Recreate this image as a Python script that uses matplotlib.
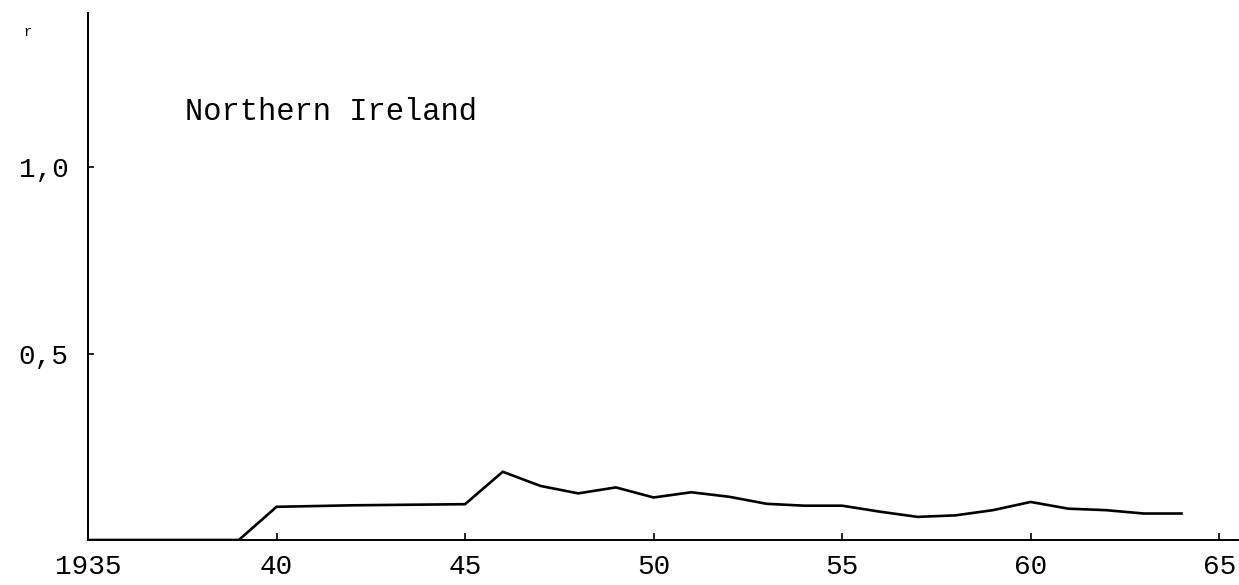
import matplotlib
matplotlib.use("Agg")
import matplotlib.pyplot as plt

# Annual values for Northern Ireland
years = [1935, 1936, 1937, 1938, 1939, 1940, 1941, 1942, 1943, 1944, 1945,
         1946, 1947, 1948, 1949, 1950, 1951, 1952, 1953, 1954, 1955,
         1956, 1957, 1958, 1959, 1960, 1961, 1962, 1963, 1964]
values = [0.0, 0.0, 0.0, 0.0, 0.0, 0.089, 0.091, 0.093, 0.094, 0.095, 0.096,
          0.183, 0.145, 0.125, 0.141, 0.114, 0.128, 0.116, 0.097, 0.092, 0.092,
          0.076, 0.062, 0.066, 0.080, 0.102, 0.084, 0.080, 0.071, 0.071]

x_ticks = [1935, 1940, 1945, 1950, 1955, 1960, 1965]
x_tick_labels = ["1935", "40", "45", "50", "55", "60", "65"]
y_ticks = [0.5, 1.0]
y_tick_labels = ["0,5", "1,0"]

FONT = "Liberation Mono"

W, H = 1239, 585
fig = plt.figure(figsize=(W / 100, H / 100), dpi=100)
ax = fig.add_axes([88 / W, 45 / H, (1238 - 88) / W, (572 - 45) / H])

ax.plot(years, values, color="black", linewidth=1.9, solid_joinstyle="miter")

ax.set_xlim(1935, 1965.5)
ax.set_ylim(0, 1.413)

for side in ("top", "right"):
    ax.spines[side].set_visible(False)
for side in ("left", "bottom"):
    ax.spines[side].set_linewidth(1.4)
    ax.spines[side].set_color("black")

ax.set_xticks(x_ticks)
ax.set_xticklabels(x_tick_labels, fontfamily=FONT, fontsize=20)
ax.set_yticks(y_ticks)
ax.set_yticklabels(y_tick_labels, fontfamily=FONT, fontsize=20)
ax.tick_params(axis="x", direction="in", length=5, width=1.2, pad=10)
ax.tick_params(axis="y", direction="in", length=4, width=1.2, pad=14)

ax.text(185 / W, 1 - 112 / H, "Northern Ireland", transform=fig.transFigure,
        fontfamily=FONT, fontsize=22, ha="left", va="center")
ax.text(28 / W, 1 - 32 / H, "r", transform=fig.transFigure,
        fontfamily=FONT, fontsize=10, ha="center", va="center")

fig.savefig("out.png", dpi=100)
